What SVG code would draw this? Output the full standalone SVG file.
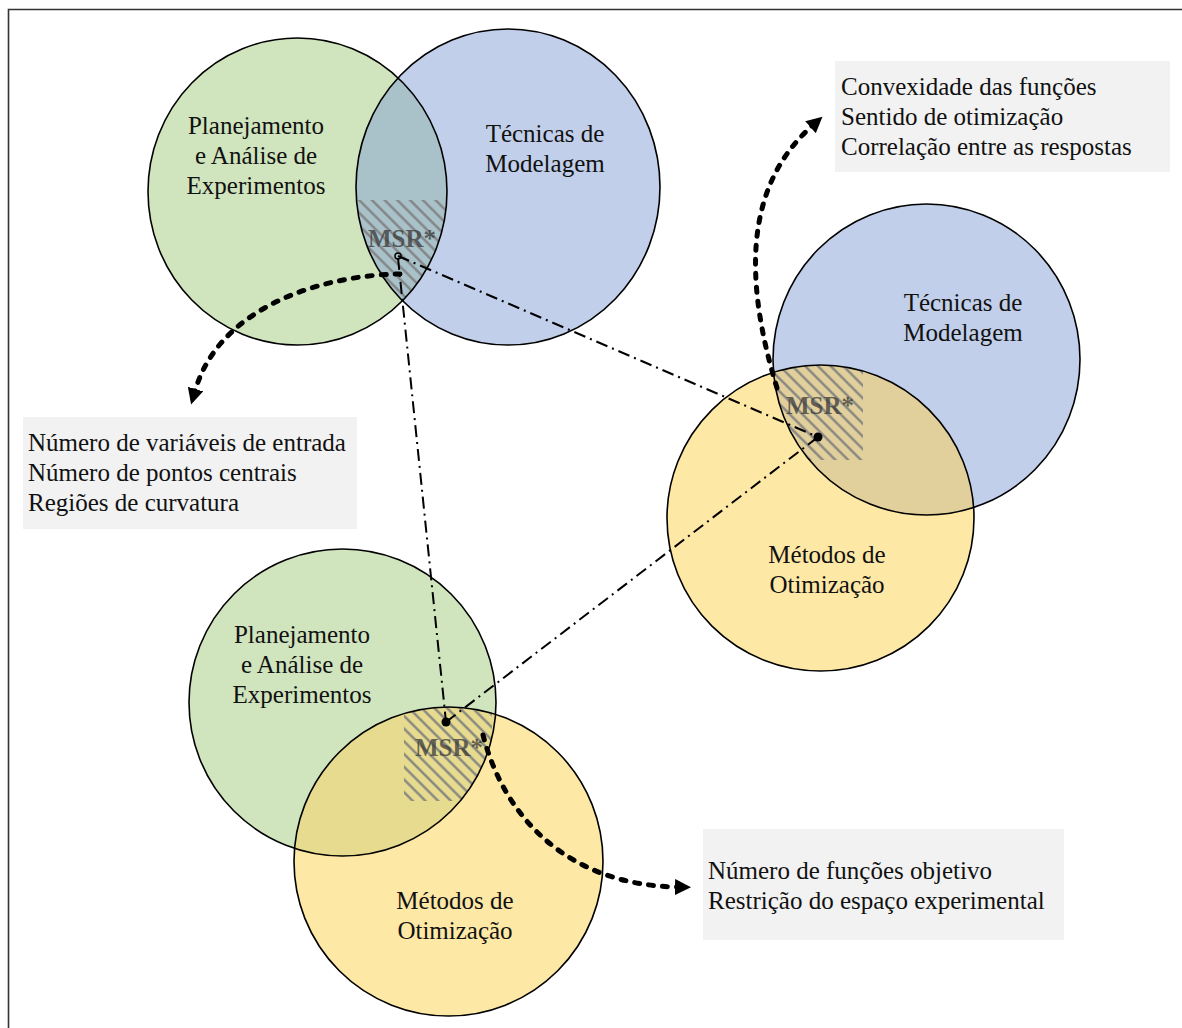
<svg xmlns="http://www.w3.org/2000/svg" width="1182" height="1028" viewBox="0 0 1182 1028">
  <style>
    .lbl { font-family: "Liberation Serif", "Times New Roman", serif; font-size: 25px; fill: #111; }
    .mid { text-anchor: middle; }
    .msr { font-family: "Liberation Serif", "Times New Roman", serif; font-size: 25px; font-weight: bold; fill: #3a3a3a; fill-opacity: 0.75; text-anchor: middle; }
    .edge { fill: none; stroke: #000; stroke-width: 1.6; }
    .box { fill: #f2f2f2; }
    .dashdot { fill: none; stroke: #000; stroke-width: 2; stroke-dasharray: 12 5 2 5; }
    .dotted { fill: none; stroke: #000; stroke-width: 5; stroke-linecap: round; stroke-dasharray: 5 9; marker-end: url(#head); }
    .hatch { fill: url(#diag); }
  </style>
  <defs>
    <pattern id="diag" width="10" height="9" patternUnits="userSpaceOnUse" patternTransform="rotate(45)">
      <path d="M0 4.5 H10" stroke="#7f7f7f" stroke-width="2.2"/>
    </pattern>
    <marker id="head" markerUnits="userSpaceOnUse" markerWidth="18" markerHeight="18" refX="2" refY="8" orient="auto">
      <path d="M0,0 L16,8 L0,16 z" fill="#000"/>
    </marker>
    <clipPath id="cG1"><ellipse cx="297.5" cy="191.5" rx="149.5" ry="153.5"/></clipPath>
    <clipPath id="cB1"><ellipse cx="508" cy="187" rx="152" ry="158"/></clipPath>
    <clipPath id="cB2"><ellipse cx="926.5" cy="359.5" rx="153.5" ry="155.5"/></clipPath>
    <clipPath id="cY2"><ellipse cx="820.5" cy="518" rx="153.5" ry="153"/></clipPath>
    <clipPath id="cG3"><ellipse cx="342.5" cy="702.5" rx="153.5" ry="153.5"/></clipPath>
    <clipPath id="cY3"><ellipse cx="448.5" cy="861.5" rx="154.5" ry="154.5"/></clipPath>
  </defs>

  <!-- page frame -->
  <path d="M8.5 1028 V9.5 H1182" fill="none" stroke="#333" stroke-width="1.6"/>

  <!-- top pair: experiments + modelling -->
  <g id="venn-top">
    <ellipse cx="297.5" cy="191.5" rx="149.5" ry="153.5" fill="#d0e4be"/>
    <ellipse cx="508" cy="187" rx="152" ry="158" fill="#c1cfea"/>
    <ellipse cx="508" cy="187" rx="152" ry="158" fill="#a9c1c9" clip-path="url(#cG1)"/>
    <g clip-path="url(#cG1)"><rect class="hatch" x="356" y="200" width="89" height="100" clip-path="url(#cB1)"/></g>
    <ellipse class="edge" cx="297.5" cy="191.5" rx="149.5" ry="153.5"/>
    <ellipse class="edge" cx="508" cy="187" rx="152" ry="158"/>
  </g>
  <g id="node-planejamento-top">
    <text class="lbl mid" x="256" y="134">Planejamento</text>
    <text class="lbl mid" x="256" y="164">e Análise de</text>
    <text class="lbl mid" x="256" y="194">Experimentos</text>
  </g>
  <g id="node-modelagem-top">
    <text class="lbl mid" x="545" y="142">Técnicas de</text>
    <text class="lbl mid" x="545" y="172">Modelagem</text>
  </g>
  <g id="node-msr-top"><text class="msr" x="402" y="247">MSR*</text></g>

  <!-- right pair: modelling + optimisation -->
  <g id="venn-right">
    <ellipse cx="926.5" cy="359.5" rx="153.5" ry="155.5" fill="#c1cfea"/>
    <ellipse cx="820.5" cy="518" rx="153.5" ry="153" fill="#fee8a6"/>
    <ellipse cx="820.5" cy="518" rx="153.5" ry="153" fill="#e2d09c" clip-path="url(#cB2)"/>
    <g clip-path="url(#cB2)"><rect class="hatch" x="770" y="364" width="93" height="96" clip-path="url(#cY2)"/></g>
    <ellipse class="edge" cx="926.5" cy="359.5" rx="153.5" ry="155.5"/>
    <ellipse class="edge" cx="820.5" cy="518" rx="153.5" ry="153"/>
  </g>
  <g id="node-modelagem-right">
    <text class="lbl mid" x="963" y="311">Técnicas de</text>
    <text class="lbl mid" x="963" y="341">Modelagem</text>
  </g>
  <g id="node-otimizacao-right">
    <text class="lbl mid" x="827" y="563">Métodos de</text>
    <text class="lbl mid" x="827" y="593">Otimização</text>
  </g>
  <g id="node-msr-right"><text class="msr" x="820" y="414">MSR*</text></g>

  <!-- bottom pair: experiments + optimisation -->
  <g id="venn-bottom">
    <ellipse cx="342.5" cy="702.5" rx="153.5" ry="153.5" fill="#d0e4be"/>
    <ellipse cx="448.5" cy="861.5" rx="154.5" ry="154.5" fill="#fee8a6"/>
    <ellipse cx="448.5" cy="861.5" rx="154.5" ry="154.5" fill="#e6db8f" clip-path="url(#cG3)"/>
    <g clip-path="url(#cG3)"><rect class="hatch" x="404" y="704" width="88" height="97" clip-path="url(#cY3)"/></g>
    <ellipse class="edge" cx="342.5" cy="702.5" rx="153.5" ry="153.5"/>
    <ellipse class="edge" cx="448.5" cy="861.5" rx="154.5" ry="154.5"/>
  </g>
  <g id="node-planejamento-bottom">
    <text class="lbl mid" x="302" y="643">Planejamento</text>
    <text class="lbl mid" x="302" y="673">e Análise de</text>
    <text class="lbl mid" x="302" y="703">Experimentos</text>
  </g>
  <g id="node-otimizacao-bottom">
    <text class="lbl mid" x="455" y="909">Métodos de</text>
    <text class="lbl mid" x="455" y="939">Otimização</text>
  </g>
  <g id="node-msr-bottom"><text class="msr" x="449" y="756">MSR*</text></g>

  <!-- note boxes -->
  <g id="note-convexidade">
    <rect class="box" x="835" y="61" width="335" height="111"/>
    <text class="lbl" x="841" y="95">Convexidade das funções</text>
    <text class="lbl" x="841" y="125">Sentido de otimização</text>
    <text class="lbl" x="841" y="155">Correlação entre as respostas</text>
  </g>
  <g id="note-variaveis">
    <rect class="box" x="23" y="417" width="334" height="112"/>
    <text class="lbl" x="28" y="451">Número de variáveis de entrada</text>
    <text class="lbl" x="28" y="481">Número de pontos centrais</text>
    <text class="lbl" x="28" y="511">Regiões de curvatura</text>
  </g>
  <g id="note-funcoes">
    <rect class="box" x="703" y="829" width="361" height="111"/>
    <text class="lbl" x="708" y="879">Número de funções objetivo</text>
    <text class="lbl" x="708" y="909">Restrição do espaço experimental</text>
  </g>

  <!-- connectors -->
  <g id="connectors">
    <path class="dashdot" d="M398 256 L818 437"/>
    <path class="dashdot" d="M398 258 L446 722"/>
    <path class="dashdot" d="M446 722 L818 437"/>
    <circle cx="398" cy="256" r="3" fill="none" stroke="#000" stroke-width="1.5"/>
    <circle cx="818" cy="437" r="4.5" fill="#000"/>
    <circle cx="446" cy="722" r="4.5" fill="#000"/>
    <path class="dotted" d="M400 274 C325 275, 220 305, 195 391"/>
    <path class="dotted" d="M777 388 C747 290, 740 190, 812 126"/>
    <path class="dotted" d="M483 735 C505 820, 570 885, 677 887"/>
  </g>
</svg>
